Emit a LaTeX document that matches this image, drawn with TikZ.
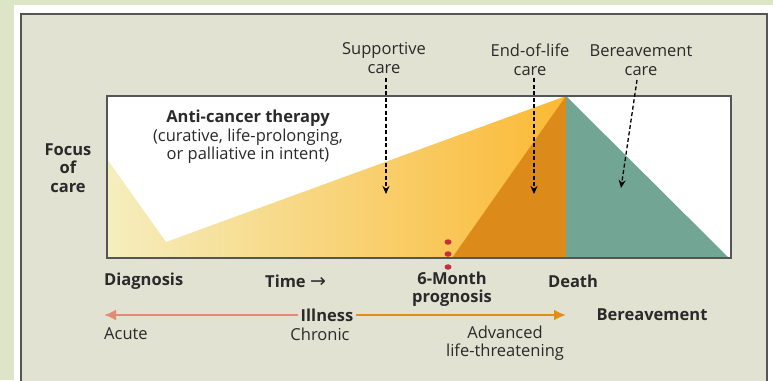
\documentclass[tikz,border=0pt]{standalone}
\usepackage{fontspec}
\setmainfont{Open Sans}
\newfontfamily\symf{DejaVu Sans}
\usetikzlibrary{arrows.meta,shapes.geometric}
\definecolor{bggreen}{HTML}{DCE5C6}
\definecolor{panel}{HTML}{E2E2D2}
\definecolor{framec}{HTML}{555555}
\definecolor{ylight}{HTML}{F5EEBE}
\definecolor{ydark}{HTML}{FBB934}
\definecolor{eol}{HTML}{DC8A1A}
\definecolor{teal}{HTML}{72A594}
\definecolor{reddot}{HTML}{C0313C}
\definecolor{acute}{HTML}{E08A78}
\definecolor{adv}{HTML}{E08D1C}
\definecolor{txt}{HTML}{2A2A2A}
\begin{document}
\begin{tikzpicture}[x=1pt,y=-1pt,
  lbl/.style={font=\fontsize{16.5}{18.5}\selectfont, text=txt, align=center, inner sep=0pt},
  blbl/.style={lbl, font=\fontsize{16.5}{18.5}\selectfont\bfseries},
  darrow/.style={dashed, line width=1.3pt, dash pattern=on 4pt off 2.5pt, -{Stealth[length=8pt,width=7pt]}, black},
  dot/.style={fill=reddot, draw=none, ellipse, minimum width=7pt, minimum height=5.5pt, inner sep=0pt}]
\useasboundingbox (0,0) rectangle (773,380);
\fill[bggreen] (0,0) rectangle (773,380);
\fill[white] (14,5) rectangle (773,380);
\draw[framec, line width=2pt, fill=panel] (21,14) -- (767,14) -- (767,382) -- (21,382) -- cycle;
% chart box
\fill[white] (107,96) rectangle (731,258);
\shade[left color=ylight, right color=ydark] (107,159) -- (166,242) -- (566,96) -- (566,258) -- (107,258) -- cycle;
\fill[eol] (452,258) -- (566,96) -- (566,258) -- cycle;
\fill[teal] (566,96) -- (729,258) -- (566,258) -- cycle;
\draw[framec, line width=1.3pt] (107,96) rectangle (731,258);
% red dots
\node[dot] (d1) at (448,242) {};
\node[dot] (d2) at (448,254) {};
\node[dot] (d3) at (448,267) {};
% top labels
\node[lbl] (sup) at (384,58) {Supportive\\care};
\node[lbl] (eolc) at (530,60) {End-of-life\\care};
\node[lbl] (ber) at (641,60) {Bereavement\\care};
\coordinate (supE) at (386,194);
\coordinate (eolE) at (534,194);
\coordinate (berE) at (621,188);
\draw[darrow] (386,78) -- (supE);
\draw[darrow] (534,78) -- (eolE);
\draw[darrow] (637,80) -- (berE);
% therapy text
\node[blbl] (act) at (248,118) {Anti-cancer therapy};
\node[lbl] (actd) at (248,146) {(curative, life-prolonging,\\or palliative in intent)};
\node[blbl] (foc) at (68,168) {Focus\\of\\care};
% axis labels
\node[blbl, anchor=west] (diag) at (104,281) {Diagnosis};
\node[blbl, anchor=west] (time) at (265,281) {Time {\symf\mdseries\fontsize{19}{19}\selectfont\char"2192}};
\node[blbl] (six) at (452,289) {6-Month\\prognosis};
\node[blbl] (death) at (573,281) {Death};
\node[blbl] (bere) at (652,315) {Bereavement};
\node[blbl] (ill) at (327,315) {Illness};
\coordinate (acuteE) at (104,315);
\coordinate (advE) at (566,315);
\draw[acute, line width=2.8pt, -{Latex[length=12pt,width=11pt]}] (ill.west) ++(-3,0) -- (acuteE);
\draw[adv, line width=2.8pt, -{Latex[length=12pt,width=11pt]}] (ill.east) ++(3,0) -- (advE);
\node[lbl, anchor=west] (acu) at (104,334) {Acute};
\node[lbl] (chr) at (320,334) {Chronic};
\node[lbl] (advt) at (505,343) {Advanced\\life-threatening};
\end{tikzpicture}
\end{document}
